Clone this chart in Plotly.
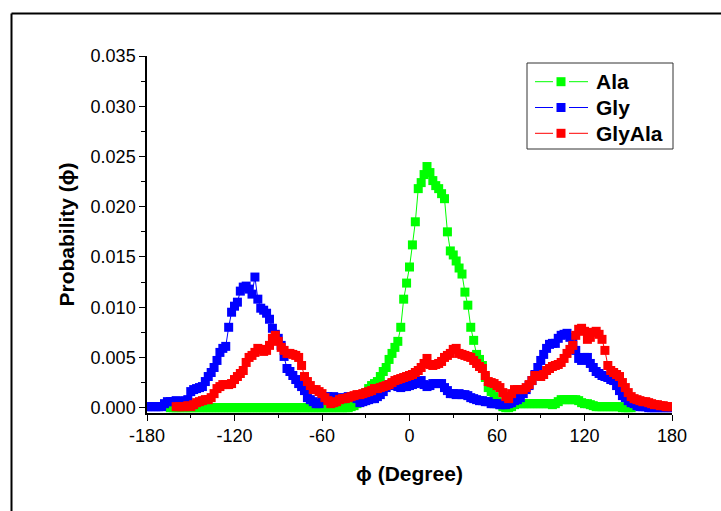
import plotly.graph_objects as go

# Dihedral-angle bins (degrees), 2-degree spacing
GLY_START, ALA_START, GLYALA_START, STEP = -180, -164, -160, 2

ala = [
    0.0000, 0.0000, 0.0000, 0.0000, 0.0000, 0.0000, 0.0000, 0.0000, 0.0000, 0.0000,
    0.0000, 0.0000, 0.0000, 0.0000, 0.0000, 0.0000, 0.0000, 0.0000, 0.0000, 0.0000,
    0.0000, 0.0000, 0.0000, 0.0000, 0.0000, 0.0000, 0.0000, 0.0000, 0.0000, 0.0000,
    0.0000, 0.0000, 0.0000, 0.0000, 0.0000, 0.0000, 0.0000, 0.0000, 0.0000, 0.0000,
    0.0000, 0.0000, 0.0000, 0.0000, 0.0000, 0.0000, 0.0000, 0.0000, 0.0000, 0.0000,
    0.0000, 0.0000, 0.0000, 0.0000, 0.0000, 0.0000, 0.0000, 0.0000, 0.0000, 0.0000,
    0.0000, 0.0000, 0.0001, 0.0002, 0.0004, 0.0007, 0.0011, 0.0015, 0.0019, 0.0022,
    0.0024, 0.0026, 0.0031, 0.0036, 0.0040, 0.0048, 0.0054, 0.0060, 0.0066, 0.0080,
    0.0108, 0.0124, 0.0140, 0.0162, 0.0185, 0.0218, 0.0224, 0.0232, 0.0240, 0.0234,
    0.0226, 0.0221, 0.0218, 0.0213, 0.0208, 0.0175, 0.0156, 0.0152, 0.0146, 0.0139,
    0.0133, 0.0115, 0.0102, 0.0080, 0.0067, 0.0053, 0.0048, 0.0042, 0.0030, 0.0020,
    0.0016, 0.0011, 0.0006, 0.0003, 0.0001, 0.0000, 0.0000, 0.0001, 0.0003, 0.0004,
    0.0004, 0.0004, 0.0004, 0.0004, 0.0004, 0.0004, 0.0004, 0.0004, 0.0004, 0.0004,
    0.0004, 0.0003, 0.0004, 0.0006, 0.0008, 0.0008, 0.0008, 0.0008, 0.0008, 0.0008,
    0.0007, 0.0005, 0.0004, 0.0004, 0.0003, 0.0002, 0.0001, 0.0001, 0.0001, 0.0001,
    0.0001, 0.0001, 0.0001, 0.0001, 0.0001, 0.0000, 0.0000, 0.0000, 0.0000,
]

gly = [
    0.0001, 0.0001, 0.0001, 0.0001, 0.0001, 0.0001, 0.0004, 0.0006, 0.0006, 0.0006,
    0.0007, 0.0006, 0.0006, 0.0007, 0.0008, 0.0016, 0.0018, 0.0019, 0.0020, 0.0021,
    0.0026, 0.0031, 0.0035, 0.0040, 0.0047, 0.0055, 0.0059, 0.0061, 0.0080, 0.0095,
    0.0101, 0.0105, 0.0116, 0.0120, 0.0121, 0.0118, 0.0113, 0.0130, 0.0108, 0.0099,
    0.0097, 0.0094, 0.0088, 0.0079, 0.0073, 0.0069, 0.0062, 0.0051, 0.0039, 0.0036,
    0.0032, 0.0028, 0.0024, 0.0021, 0.0017, 0.0010, 0.0008, 0.0006, 0.0004, 0.0004,
    0.0008, 0.0011, 0.0011, 0.0010, 0.0011, 0.0010, 0.0009, 0.0009, 0.0010, 0.0011,
    0.0011, 0.0011, 0.0009, 0.0005, 0.0006, 0.0007, 0.0008, 0.0009, 0.0009, 0.0011,
    0.0013, 0.0016, 0.0020, 0.0023, 0.0024, 0.0022, 0.0021, 0.0020, 0.0021, 0.0021,
    0.0022, 0.0023, 0.0024, 0.0025, 0.0027, 0.0023, 0.0021, 0.0022, 0.0024, 0.0024,
    0.0024, 0.0024, 0.0020, 0.0017, 0.0014, 0.0014, 0.0013, 0.0014, 0.0013, 0.0013,
    0.0012, 0.0010, 0.0009, 0.0008, 0.0007, 0.0007, 0.0006, 0.0006, 0.0004, 0.0004,
    0.0004, 0.0003, 0.0003, 0.0003, 0.0004, 0.0005, 0.0007, 0.0008, 0.0010, 0.0014,
    0.0018, 0.0022, 0.0027, 0.0033, 0.0040, 0.0047, 0.0053, 0.0059, 0.0063, 0.0064,
    0.0064, 0.0069, 0.0072, 0.0073, 0.0074, 0.0070, 0.0064, 0.0057, 0.0049, 0.0047,
    0.0050, 0.0050, 0.0044, 0.0040, 0.0036, 0.0034, 0.0032, 0.0031, 0.0030, 0.0028,
    0.0027, 0.0022, 0.0017, 0.0012, 0.0010, 0.0007, 0.0005, 0.0004, 0.0002, 0.0001,
    0.0001, 0.0001, 0.0000, 0.0000, 0.0000, 0.0000, 0.0000, 0.0000, 0.0000, 0.0000,
    0.0000,
]

glyala = [
    0.0001, 0.0001, 0.0001, 0.0001, 0.0002, 0.0001, 0.0003, 0.0005, 0.0006, 0.0007,
    0.0008, 0.0008, 0.0010, 0.0014, 0.0019, 0.0021, 0.0023, 0.0023, 0.0023, 0.0024,
    0.0028, 0.0031, 0.0034, 0.0037, 0.0045, 0.0050, 0.0052, 0.0055, 0.0059, 0.0058,
    0.0056, 0.0057, 0.0062, 0.0069, 0.0072, 0.0066, 0.0060, 0.0057, 0.0054, 0.0054,
    0.0053, 0.0052, 0.0050, 0.0042, 0.0031, 0.0026, 0.0022, 0.0018, 0.0018, 0.0016,
    0.0014, 0.0010, 0.0007, 0.0004, 0.0005, 0.0006, 0.0008, 0.0009, 0.0009, 0.0010,
    0.0011, 0.0012, 0.0013, 0.0013, 0.0014, 0.0015, 0.0016, 0.0017, 0.0019, 0.0019,
    0.0020, 0.0021, 0.0022, 0.0023, 0.0025, 0.0027, 0.0028, 0.0029, 0.0030, 0.0031,
    0.0032, 0.0033, 0.0035, 0.0037, 0.0040, 0.0044, 0.0049, 0.0043, 0.0042, 0.0043,
    0.0044, 0.0046, 0.0050, 0.0052, 0.0054, 0.0058, 0.0059, 0.0054, 0.0053, 0.0052,
    0.0051, 0.0050, 0.0047, 0.0044, 0.0041, 0.0039, 0.0032, 0.0026, 0.0025, 0.0024,
    0.0022, 0.0020, 0.0015, 0.0011, 0.0009, 0.0014, 0.0018, 0.0018, 0.0018, 0.0018,
    0.0020, 0.0023, 0.0027, 0.0032, 0.0032, 0.0031, 0.0033, 0.0037, 0.0039, 0.0041,
    0.0042, 0.0043, 0.0045, 0.0049, 0.0054, 0.0058, 0.0062, 0.0072, 0.0078, 0.0079,
    0.0076, 0.0068, 0.0070, 0.0075, 0.0076, 0.0073, 0.0068, 0.0057, 0.0042, 0.0037,
    0.0035, 0.0033, 0.0031, 0.0025, 0.0020, 0.0015, 0.0011, 0.0009, 0.0008, 0.0007,
    0.0006, 0.0006, 0.0005, 0.0004, 0.0003, 0.0003, 0.0002, 0.0002, 0.0001, 0.0001,
    0.0001,
]

x_ticks = [-180, -120, -60, 0, 60, 120, 180]
x_tick_text = ["-180", "-120", "-60", "0", "60", "120", "180"]
y_ticks = [0.000, 0.005, 0.010, 0.015, 0.020, 0.025, 0.030, 0.035]


def angles(start, values):
    return [start + STEP * i for i in range(len(values))]


series = [
    ("Ala", ALA_START, ala, "#00ff00"),
    ("Gly", GLY_START, gly, "#0000ff"),
    ("GlyAla", GLYALA_START, glyala, "#ff0000"),
]

FONT = "Arial, 'Liberation Sans', sans-serif"

# Plot area in pixels, used to place the legend box and page frame in paper units
L, R, T, B = 147, 672, 56, 413
W, H = R - L, B - T


def px(xp):
    return (xp - L) / W


def py(yp):
    return (B - yp) / H


fig = go.Figure()
for name, start, vals, color in series:
    fig.add_trace(go.Scatter(
        x=angles(start, vals), y=vals, name=name,
        mode="lines+markers",
        line=dict(color=color, width=1),
        marker=dict(symbol="square", size=9, color=color, line=dict(width=0)),
        showlegend=False,
    ))

axis_common = dict(
    showline=True, linecolor="black", linewidth=1.5,
    ticks="outside", ticklen=6, tickwidth=1, tickcolor="black",
    showgrid=False, zeroline=False, mirror=False,
    tickfont=dict(family=FONT, size=18, color="black"),
)

fig.update_xaxes(
    range=[-180, 180], tickvals=x_ticks, ticktext=x_tick_text,
    minor=dict(dtick=30, tick0=-180, ticks="outside", ticklen=3, tickcolor="black"),
    title=dict(text="ϕ (Degree)", font=dict(family=FONT, size=21, color="black", weight="bold"), standoff=21),
    **axis_common,
)
fig.update_yaxes(
    range=[-0.00053, 0.035], tickvals=y_ticks, tickformat=".3f",
    minor=dict(dtick=0.0025, tick0=0, ticks="outside", ticklen=4, tickcolor="black"),
    title=dict(text="Probability (ϕ)", font=dict(family=FONT, size=21, color="black", weight="bold"), standoff=10),
    **axis_common,
)

shapes = []
annotations = []

# Frame around the page (left and top edges)
frame_x, frame_y = 11.5, 13.5
shapes.append(dict(type="line", xref="paper", yref="paper", x0=px(frame_x), x1=px(760),
                   y0=py(frame_y), y1=py(frame_y), line=dict(color="black", width=2)))
shapes.append(dict(type="line", xref="paper", yref="paper", x0=px(frame_x), x1=px(frame_x),
                   y0=py(frame_y), y1=py(560), line=dict(color="black", width=2)))

# Legend: boxed, line - square - line symbol followed by the series name
shapes.append(dict(type="rect", xref="paper", yref="paper", x0=px(527), x1=px(673),
                   y0=py(149), y1=py(63), line=dict(color="#333333", width=1),
                   fillcolor="white", layer="above"))
row_y = [81.7, 107.5, 133.3]
for (name, _, _, color), yr in zip(series, row_y):
    for xa, xb in ((535, 553), (569, 588)):
        shapes.append(dict(type="line", xref="paper", yref="paper", x0=px(xa), x1=px(xb),
                           y0=py(yr), y1=py(yr), line=dict(color=color, width=1), layer="above"))
    shapes.append(dict(type="rect", xref="paper", yref="paper", x0=px(556.5), x1=px(565.5),
                       y0=py(yr + 4.5), y1=py(yr - 4.5), line=dict(width=0),
                       fillcolor=color, layer="above"))
    annotations.append(dict(xref="paper", yref="paper", x=px(594), y=py(yr), text=name,
                            xanchor="left", yanchor="middle", showarrow=False,
                            font=dict(family=FONT, size=21, color="black", weight="bold")))

fig.update_layout(
    width=721, height=511,
    margin=dict(l=L, r=721 - R, t=T, b=511 - B, autoexpand=False),
    paper_bgcolor="white", plot_bgcolor="white",
    showlegend=False,
    shapes=shapes, annotations=annotations,
)

fig.write_html("out.html")
